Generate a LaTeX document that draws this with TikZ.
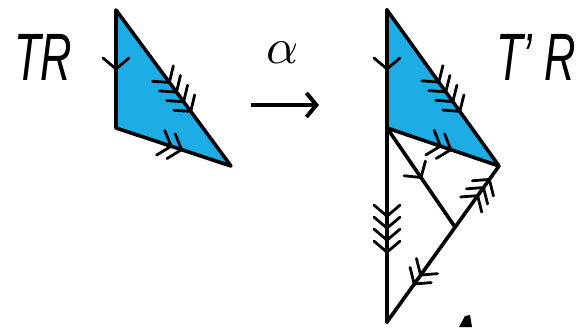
\documentclass[tikz,border=0pt]{standalone}
\usepackage{fontspec}
\usepackage{graphicx}
\usetikzlibrary{decorations.markings,arrows.meta}
\newfontfamily\labfont{Liberation Sans}
\definecolor{tricyan}{RGB}{30,172,228}
\newcommand\chevgroup[2]{%
  \foreach \k in {1,...,#1}{%
    \draw[chevstroke] ({-(\k-1)*#2pt-11pt},13pt) -- ({-(\k-1)*#2pt},0pt) -- ({-(\k-1)*#2pt-11pt},-13pt);}}
\tikzset{
  edge/.style={line width=3.6pt, line join=round, line cap=round},
  chevstroke/.style={line width=2.8pt, line cap=round, line join=miter, draw=black},
  chev/.style n args={3}{postaction={decorate, decoration={markings, mark=at position #1 with {\chevgroup{#2}{#3}}}}},
  lab/.style={anchor=base west, inner sep=0pt, font=\labfont\itshape}
}
\begin{document}
\begin{tikzpicture}[x=1pt,y=-1pt]
\useasboundingbox (0,0) rectangle (585,327);
% vertices
\coordinate (A) at (116,10);
\coordinate (B) at (116,128);
\coordinate (C) at (231,166);
\coordinate (A2) at (387,10);
\coordinate (B2) at (387,128);
\coordinate (C2) at (499,166);
\coordinate (D) at (455,227);
\coordinate (E) at (387,322);
% left triangle
\fill[tricyan] (A) -- (B) -- (C) -- cycle;
\draw[edge] (A) -- (B) -- (C) -- cycle;
\path (A) -- (B) [chev={0.5}{1}{10}];
\path (A) -- (C) [chev={0.65}{4}{12}];
\path (B) -- (C) [chev={0.57}{2}{11}];
% right figure
\fill[tricyan] (A2) -- (B2) -- (C2) -- cycle;
\draw[edge] (A2) -- (E);
\draw[edge] (A2) -- (C2) -- (E);
\draw[edge] (B2) -- (C2);
\draw[edge] (B2) -- (D);
\path (A2) -- (B2) [chev={0.5}{1}{10}];
\path (A2) -- (C2) [chev={0.65}{4}{12}];
\path (B2) -- (C2) [chev={0.57}{2}{11}];
\path (B2) -- (D) [chev={0.5}{1}{10}];
\path (D) -- (C2) [chev={0.78}{3}{10}];
\path (D) -- (E) [chev={0.6}{2}{11}];
\path (B2) -- (E) [chev={0.64}{4}{12}];
% labels
\node[lab] (tr) at (14,80) {\scalebox{0.65}[1]{\fontsize{67}{67}\selectfont TR}};
\node[lab] (tpr) at (496,80) {\scalebox{0.65}[1]{\fontsize{67}{67}\selectfont T’ R}};
\node[anchor=base, inner sep=0pt] (alpha) at (283,63) {\scalebox{5}{$\alpha$}};
\coordinate (arrs) at (251,105);
\coordinate (arre) at (319,105);
\draw[line width=4pt, -{Straight Barb[length=10pt,width=24pt]}] (arrs) -- (arre);
% cut-off fragment at bottom edge
\fill (459,327) -- (465,316) -- (470,315) -- (472,327) -- cycle;
\end{tikzpicture}
\end{document}
